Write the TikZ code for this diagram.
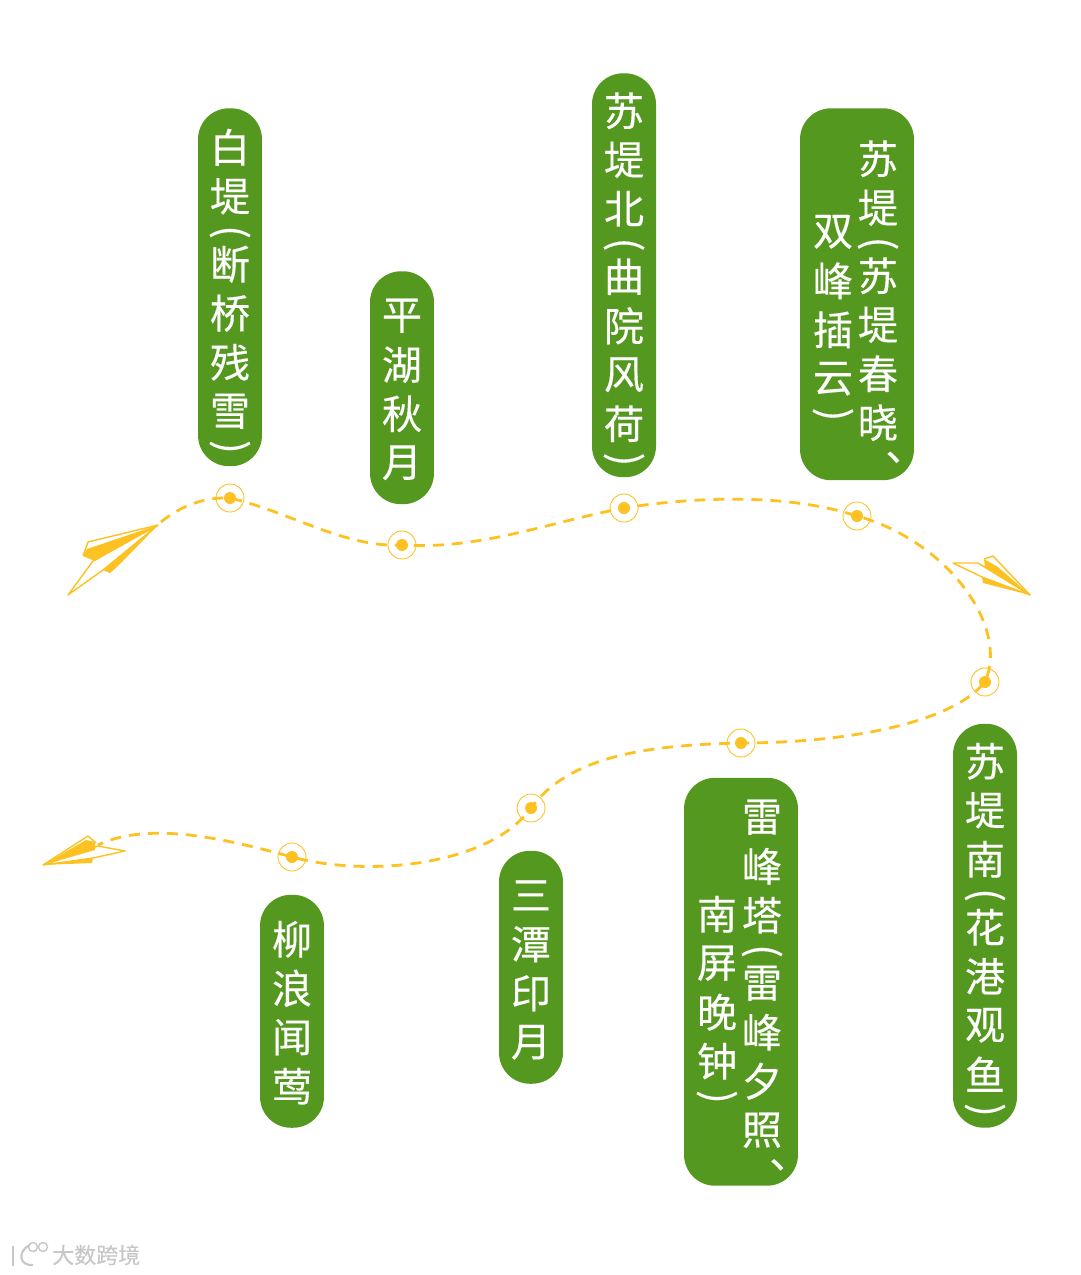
\documentclass[tikz,border=0pt]{standalone}
\usepackage{fontspec}
\setmainfont{Noto Sans CJK SC}[FakeBold=0.3]
\usetikzlibrary{positioning}
\definecolor{leaf}{HTML}{55981F}
\definecolor{amber}{HTML}{FDC121}
% one character per row, brackets turned on their side
\newcommand{\vrow}[1]{\vbox to 0.98cm{\vskip 0.06cm plus 1fil\hbox to 0.8cm{\hss#1\hss}\vss}}
\newcommand{\vshort}[1]{\vbox to 0.38cm{\vskip 0.12cm plus 1fil\hbox to 0.8cm{\hss#1\hss}\vss}}
\newcommand{\vitem}[1]{%
  \ifx#1(\vshort{\rotatebox{-90}{(}}%
  \else\ifx#1)\vshort{\rotatebox{-90}{)}}%
  \else\ifx#1、\vshort{\raisebox{0.16cm}{\kern1.1cm 、}}%
  \else\vrow{#1}\fi\fi\fi}
\newcommand{\vnext}[1]{\ifx#1\relax\else\vitem{#1}\expandafter\vnext\fi}
\newcommand{\vtext}[1]{\vbox{\offinterlineskip\vnext#1\relax}}
\tikzset{
  pill/.style={rectangle, rounded corners=0.62cm, fill=leaf, text=white, inner sep=0pt,
               minimum width=1.28cm, font=\fontsize{22.8pt}{22.8pt}\selectfont},
  widepill/.style={pill, minimum width=2.28cm},
  column/.style={inner sep=0pt, text=white, font=\fontsize{22.8pt}{22.8pt}\selectfont},
  stopring/.style={circle, draw=amber, line width=0.5pt, minimum size=0.56cm, inner sep=0pt},
  flightpath/.style={draw=amber, line width=1.6pt, dash pattern=on 0.22cm off 0.16cm},
  planefill/.style={fill=amber},
  planeline/.style={draw=amber, line width=0.8pt, line join=round},
  brand/.style={text=black!22, inner sep=0pt, font=\fontsize{12.5pt}{12.5pt}\selectfont},
}
\begin{document}
\begin{tikzpicture}[x=0.02cm, y=-0.02cm]
  \useasboundingbox (0,0) rectangle (1080,1275);

  % Stops along the route
  \node[stopring] (s1) at (230,498) {};
  \node[stopring] (s2) at (402,545) {};
  \node[stopring] (s3) at (624,508) {};
  \node[stopring] (s4) at (857,516) {};
  \node[stopring] (s5) at (985,682) {};
  \node[stopring] (s6) at (741,743) {};
  \node[stopring] (s7) at (531,808) {};
  \node[stopring] (s8) at (292,857) {};
  \foreach \n in {s1,s2,s3,s4,s5,s6,s7,s8}
    \fill[amber] (\n) circle (0.12cm);

  % Free ends of the route
  \coordinate (start) at (161,522);
  \coordinate (finish) at (98,845);

  % Route
  \draw[flightpath] (start) .. controls (182,505) and (205,497) .. (s1.center)
    .. controls (290,512) and (345,548) .. (s2.center)
    .. controls (480,550) and (550,522) .. (s3.center)
    .. controls (700,496) and (790,494) .. (s4.center)
    .. controls (945,540) and (1010,625) .. (s5.center)
    .. controls (950,725) and (840,743) .. (s6.center)
    .. controls (650,745) and (570,755) .. (s7.center)
    .. controls (490,865) and (370,878) .. (s8.center)
    .. controls (230,840) and (150,820) .. (finish);

  % Upper row
  \node[pill, minimum height=7.16cm, above=0.34cm of s1] (baidi) {\vtext{白堤(断桥残雪)}};
  \node[pill, minimum height=4.66cm, above=0.52cm of s2] (pinghu) {\vtext{平湖秋月}};
  \node[pill, minimum height=8.08cm, above=0.32cm of s3] (sunorth) {\vtext{苏堤北(曲院风荷)}};
  \node[widepill, minimum height=7.44cm, above=0.42cm of s4] (sumid) {};
  \node[column, anchor=north] (sumidr) at ([xshift=0.42cm, yshift=-0.49cm]sumid.north) {\vtext{苏堤(苏堤春晓、}};
  \node[column, anchor=north] (sumidl) at ([xshift=-0.48cm, yshift=-1.95cm]sumid.north) {\vtext{双峰插云)}};

  % Lower row
  \node[pill, minimum height=8.08cm, below=0.54cm of s5] (susouth) {\vtext{苏堤南(花港观鱼)}};
  \node[widepill, minimum height=8.16cm, below=0.40cm of s6] (leifeng) {};
  \node[column, anchor=north] (leifengr) at ([xshift=0.42cm, yshift=-0.27cm]leifeng.north) {\vtext{雷峰塔(雷峰夕照、}};
  \node[column, anchor=north] (leifengl) at ([xshift=-0.48cm, yshift=-2.21cm]leifeng.north) {\vtext{南屏晚钟)}};
  \node[pill, minimum height=4.66cm, below=0.56cm of s7] (santan) {\vtext{三潭印月}};
  \node[pill, minimum height=4.66cm, below=0.46cm of s8] (liulang) {\vtext{柳浪闻莺}};

  % Paper planes
  \fill[planefill] (158,525) -- (87,549) -- (83,556) -- (95,561) -- cycle;
  \fill[planefill] (158,525) -- (103,570) -- (110,573) -- (118,566) -- cycle;
  \draw[planeline] (158,525) -- (88,542) -- (83,556);
  \draw[planeline] (158,525) -- (93,561) -- (68,595) -- (103,570) -- cycle;

  \fill[planefill] (1030,595) -- (998,567) -- (984,559) -- (985,568) -- cycle;
  \fill[planefill] (1030,595) -- (982,577) -- (983,583) -- cycle;
  \draw[planeline] (1030,595) -- (993,556) -- (984,559);
  \draw[planeline] (1030,595) -- (978,563) -- (953,563) -- (982,577) -- cycle;

  \fill[planefill] (43,865) -- (86,840) -- (95,842) -- (95,850) -- cycle;
  \fill[planefill] (43,865) -- (93,858) -- (92,863) -- cycle;
  \draw[planeline] (43,865) -- (88,836) -- (96,843);
  \draw[planeline] (43,865) -- (98,846) -- (125,851) -- (93,858) -- cycle;

  % Watermark
  \node[brand, anchor=west] (brandname) at (52,1255) {大数跨境};
  \draw[black!22, line width=1.2pt] (13,1246) -- (13,1266);
  \draw[black!22, line width=1.2pt] (30,1245) .. controls (18,1250) and (18,1266) .. (33,1265);
  \draw[black!22, line width=0.8pt] (33,1247) circle (0.09cm) (43,1247) circle (0.09cm);
\end{tikzpicture}
\end{document}
